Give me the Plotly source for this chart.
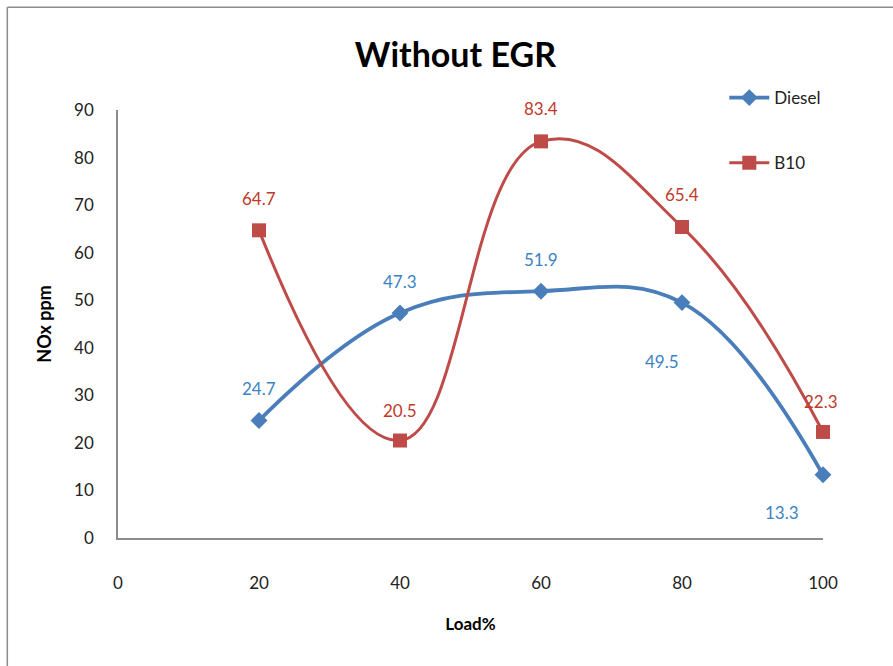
import plotly.graph_objects as go

load = [20, 40, 60, 80, 100]
diesel = [24.7, 47.3, 51.9, 49.5, 13.3]
b10 = [64.7, 20.5, 83.4, 65.4, 22.3]
x_ticks = [0, 20, 40, 60, 80, 100]
y_ticks = [0, 10, 20, 30, 40, 50, 60, 70, 80, 90]

BLUE = "#4A7EBB"
RED = "#BE4B48"
BLUE_TXT = "#3C82C4"
RED_TXT = "#C0392B"
FONT = "Lato"

fig = go.Figure()
fig.add_trace(go.Scatter(
    x=load, y=diesel, name="Diesel", mode="lines+markers",
    line=dict(color=BLUE, width=3.8, shape="spline", smoothing=1.15),
    marker=dict(symbol="diamond", size=13, color=BLUE),
    legendgroup="d", cliponaxis=False,
))
fig.add_trace(go.Scatter(
    x=load, y=b10, name="B10", mode="lines+markers",
    line=dict(color=RED, width=3, shape="spline", smoothing=1.25),
    marker=dict(symbol="square", size=14, color=RED),
    legendgroup="b", cliponaxis=False,
))

# data labels: (xshift, yshift) per point
d_off = [(0, 32), (0, 32), (0, 32), (-20, -59), (-41, -38)]
b_off = [(0, 32), (0, 30), (0, 33), (0, 32), (-2, 30)]
for xv, yv, (dx, dy) in zip(load, diesel, d_off):
    fig.add_annotation(x=xv, y=yv, text=f"{yv}", showarrow=False,
                       xshift=dx, yshift=dy,
                       font=dict(family=FONT, size=17, color=BLUE_TXT))
for xv, yv, (dx, dy) in zip(load, b10, b_off):
    fig.add_annotation(x=xv, y=yv, text=f"{yv}", showarrow=False,
                       xshift=dx, yshift=dy,
                       font=dict(family=FONT, size=17, color=RED_TXT))

# outer frame (top and left edges visible)
fig.add_shape(type="line", xref="paper", yref="paper",
              x0=-0.157, x1=1.2, y0=1.24, y1=1.24,
              line=dict(color="#8C8C8C", width=1.5))
fig.add_shape(type="line", xref="paper", yref="paper",
              x0=-0.157, x1=-0.157, y0=-0.4, y1=1.24,
              line=dict(color="#8C8C8C", width=1.5))

fig.update_layout(
    width=893, height=666,
    margin=dict(l=118, r=70, t=110, b=128),
    paper_bgcolor="white", plot_bgcolor="white",
    font=dict(family=FONT, size=17, color="#222222"),
    title=dict(text="<b>Without EGR</b>", x=0.51, xanchor="center",
               y=0.918, yanchor="middle",
               font=dict(family=FONT, size=34, color="black")),
    xaxis=dict(range=[0, 100], tickvals=x_ticks, showgrid=False, zeroline=False,
               showline=True, linecolor="#8C8C8C", linewidth=1.5,
               ticks="", ticklabelstandoff=29,
               tickfont=dict(family=FONT, size=17, color="#222222"),
               title=dict(text="<b>Load%</b>", standoff=26,
                          font=dict(family=FONT, size=17, color="black"))),
    yaxis=dict(range=[0, 90], tickvals=y_ticks, showgrid=False, zeroline=False,
               showline=True, linecolor="#8C8C8C", linewidth=1.5,
               ticks="", ticklabelstandoff=19,
               tickfont=dict(family=FONT, size=17, color="#222222"),
               title=dict(text="<b>NOx ppm</b>", standoff=18,
                          font=dict(family=FONT, size=18, color="black"))),
    legend=dict(x=0.86, y=1.07, xanchor="left", yanchor="top",
                bgcolor="rgba(0,0,0,0)", tracegroupgap=40, itemwidth=40,
                font=dict(family=FONT, size=17, color="#222222")),
    showlegend=True,
)

fig.write_html("out.html")
